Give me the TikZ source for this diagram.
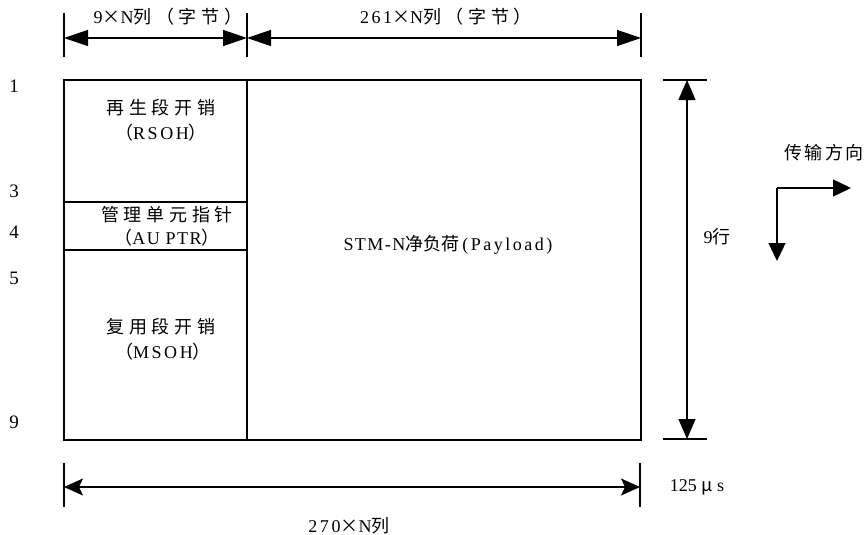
\documentclass[tikz,border=0pt]{standalone}
\usepackage{fontspec}
\setmainfont{Liberation Serif}
\newfontfamily\cjk{Noto Sans CJK SC}
\newfontfamily\cjkm{Noto Sans CJK SC}[LetterSpace=12]
\newfontfamily\cjkw{Noto Sans CJK SC}[LetterSpace=26]
\newfontfamily\latw{Liberation Serif}[LetterSpace=14]
\newfontfamily\latm{Liberation Serif}[LetterSpace=8]
\usetikzlibrary{arrows.meta}
\tikzset{
  lbl/.style={font=\fontsize{18}{21}\selectfont, inner sep=0pt},
  rowlbl/.style={font=\fontsize{19}{22}\selectfont, inner sep=0pt},
  dim/.style={line width=1.3pt, {Triangle[length=24pt,width=16pt]}-{Triangle[length=24pt,width=16pt]}},
  dimb/.style={line width=1.3pt, {Stealth[length=19pt,width=17pt,inset=4pt]}-{Stealth[length=19pt,width=17pt,inset=4pt]}},
  dimv/.style={line width=1.3pt, {Triangle[length=20pt,width=17pt]}-{Triangle[length=20pt,width=17pt]}},
  dirarrow/.style={line width=1.3pt, -{Triangle[length=18pt,width=17pt]}},
  tick/.style={line width=1.2pt},
  frame/.style={line width=2.6pt},
  inner/.style={line width=1.3pt}
}
\begin{document}
\begin{tikzpicture}[x=1pt,y=-1pt]
\useasboundingbox (0,0) rectangle (867,535);
% frame coordinates
\coordinate (TL) at (64,80);
\coordinate (TR) at (641,80);
\coordinate (BL) at (64,440);
\coordinate (BR) at (641,440);
\coordinate (DT) at (247,80);
\coordinate (DB) at (247,440);
\coordinate (H1L) at (64,202);
\coordinate (H1R) at (247,202);
\coordinate (H2L) at (64,250);
\coordinate (H2R) at (247,250);
\draw[inner] (DT) -- (DB);
\draw[inner] (H1L) -- (H1R);
\draw[inner] (H2L) -- (H2R);
\draw[frame] (TL) rectangle (BR);

% top dimension
\coordinate (t1a) at (64,13); \coordinate (t1b) at (64,57);
\coordinate (t2a) at (247,13); \coordinate (t2b) at (247,57);
\coordinate (t3a) at (641,13); \coordinate (t3b) at (641,57);
\draw[tick] (t1a) -- (t1b);
\draw[tick] (t2a) -- (t2b);
\draw[tick] (t3a) -- (t3b);
\coordinate (d1) at (64,38); \coordinate (d2) at (247,38); \coordinate (d3) at (641,38);
\draw[dim] (d1) -- (d2);
\draw[dim] (d2) -- (d3);
\node[lbl] (top1) at (168,17) {{\latw 9}{\cjkw ×}{\latw N}{\cjkw 列（字节）}};
\node[lbl] (top2) at (446,17) {{\latw 261}{\cjkw ×}{\latw N}{\cjkw 列（字节）}};

% right dimension
\coordinate (r1a) at (663,80); \coordinate (r1b) at (707,80);
\coordinate (r2a) at (663,439); \coordinate (r2b) at (707,439);
\draw[tick] (r1a) -- (r1b);
\draw[tick] (r2a) -- (r2b);
\coordinate (rv1) at (687,80); \coordinate (rv2) at (687,439);
\draw[dimv] (rv1) -- (rv2);
\node[lbl] (rows) at (717,237) {9{\cjk 行}};

% bottom dimension
\coordinate (b1a) at (64,463); \coordinate (b1b) at (64,507);
\coordinate (b2a) at (640,463); \coordinate (b2b) at (640,507);
\draw[tick] (b1a) -- (b1b);
\draw[tick] (b2a) -- (b2b);
\coordinate (bd1) at (64,487); \coordinate (bd2) at (640,487);
\draw[dimb] (bd1) -- (bd2);
\node[lbl] (cols) at (349,526) {{\latw 270}{\cjkw ×}{\latw N}{\cjk 列}};
\node[lbl] (time) at (697,487) {125 {\cjk μ} s};

% transmission direction
\node[lbl] (dir) at (824,153) {\cjkm 传输方向};
\coordinate (corner) at (777,188);
\coordinate (rightend) at (851,188);
\coordinate (downend) at (777,261);
\draw[dirarrow] (corner) -- (rightend);
\draw[dirarrow] (corner) -- (downend);

% row numbers
\node[rowlbl] (r1) at (14,86) {1};
\node[rowlbl] (r3) at (14,191) {3};
\node[rowlbl] (r4) at (14,232) {4};
\node[rowlbl] (r5) at (14,278) {5};
\node[rowlbl] (r9) at (14,422) {9};

% box texts
\node[lbl] (rsoh1) at (161,108) {\cjkw 再生段开销};
\node[lbl] (rsoh2) at (161,133) {{\cjk （}{\latw RSOH}{\cjk ）}};
\node[lbl] (au1) at (167,215) {\cjkw 管理单元指针};
\node[lbl] (au2) at (167,238) {{\cjk （}{\latm AU PTR}{\cjk ）}};
\node[lbl] (ms1) at (161,327) {\cjkw 复用段开销};
\node[lbl] (ms2) at (163,352) {{\cjk （}{\latw MSOH}{\cjk ）}};
\node[lbl] (pay) at (448,245) {{\latm STM-N}{\cjk 净负荷}\,{\latw (Payload)}};
\end{tikzpicture}
\end{document}
